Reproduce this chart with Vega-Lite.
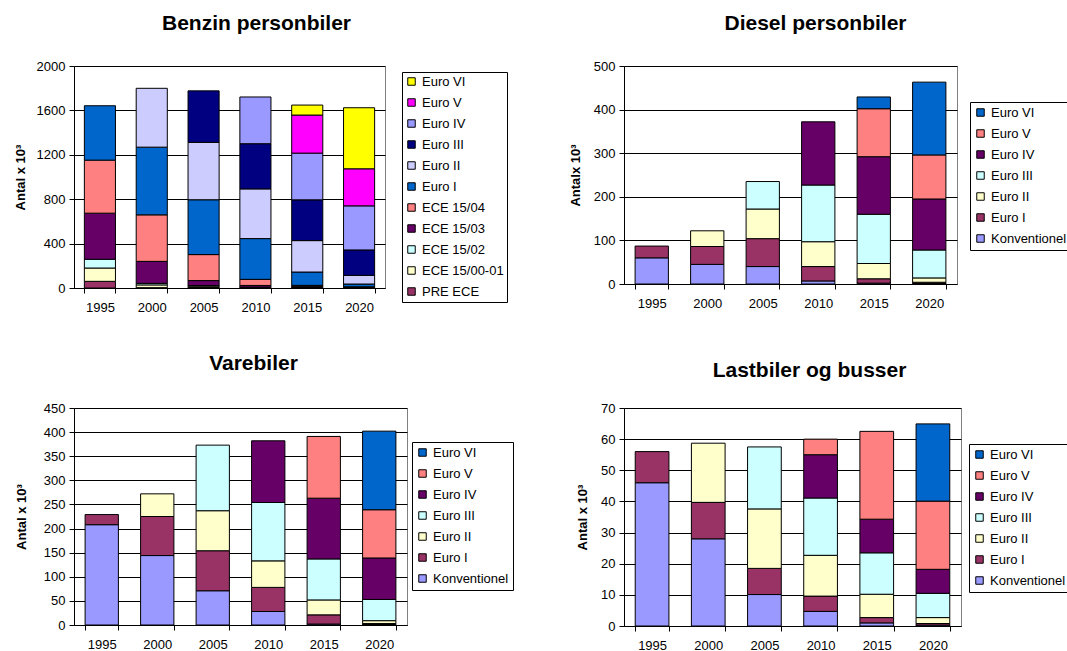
{
  "$schema": "https://vega.github.io/schema/vega-lite/v6.json",
  "padding": {"left": 13, "top": 12, "right": 0, "bottom": 0},
  "bounds": "flush",
  "columns": 2,
  "spacing": {"row": 120, "column": 217},
  "resolve": {"scale": {"color": "independent", "y": "independent", "x": "independent"}, "legend": {"color": "independent"}},
  "config": {
    "font": "Liberation Sans",
    "view": {"stroke": "#808080", "strokeWidth": 1},
    "axis": {"labelFontSize": 13, "labelColor": "#000", "domainColor": "#000", "tickColor": "#000", "tickSize": 5, "titleFontSize": 13, "titleFontWeight": "bold", "titleColor": "#000", "gridColor": "#000", "labelFont": "Liberation Sans", "titleFont": "Liberation Sans"},
    "axisX": {"grid": false, "labelAngle": 0, "labelPadding": 8},
    "axisY": {"grid": true, "labelPadding": 4, "format": "d"},
    "legend": {"orient": "none", "strokeColor": "#000", "fillColor": "#fff", "padding": 4, "symbolType": "square", "symbolSize": 56, "symbolStrokeColor": "#000", "symbolStrokeWidth": 1, "labelFontSize": 13, "labelColor": "#000", "rowPadding": 7, "labelOffset": 4, "labelFont": "Liberation Sans"},
    "title": {"fontSize": 21, "fontWeight": "bold", "color": "#000", "frame": "group", "anchor": "middle", "font": "Liberation Sans"}
  },
  "concat": [
    {
      "width": 311, "height": 222,
      "title": {"text": "Benzin personbiler", "dx": 27, "offset": 26},
      "data": {"values": [
        {"year": "1995", "s": "PRE ECE", "k": 0, "v": 60}, {"year": "1995", "s": "ECE 15/00-01", "k": 1, "v": 120}, {"year": "1995", "s": "ECE 15/02", "k": 2, "v": 79}, {"year": "1995", "s": "ECE 15/03", "k": 3, "v": 415}, {"year": "1995", "s": "ECE 15/04", "k": 4, "v": 478}, {"year": "1995", "s": "Euro I", "k": 5, "v": 490},
        {"year": "2000", "s": "PRE ECE", "k": 0, "v": 3}, {"year": "2000", "s": "ECE 15/00-01", "k": 1, "v": 25}, {"year": "2000", "s": "ECE 15/02", "k": 2, "v": 14}, {"year": "2000", "s": "ECE 15/03", "k": 3, "v": 198}, {"year": "2000", "s": "ECE 15/04", "k": 4, "v": 419}, {"year": "2000", "s": "Euro I", "k": 5, "v": 610}, {"year": "2000", "s": "Euro II", "k": 6, "v": 530},
        {"year": "2005", "s": "PRE ECE", "k": 0, "v": 5}, {"year": "2005", "s": "ECE 15/00-01", "k": 1, "v": 12}, {"year": "2005", "s": "ECE 15/02", "k": 2, "v": 5}, {"year": "2005", "s": "ECE 15/03", "k": 3, "v": 45}, {"year": "2005", "s": "ECE 15/04", "k": 4, "v": 234}, {"year": "2005", "s": "Euro I", "k": 5, "v": 494}, {"year": "2005", "s": "Euro II", "k": 6, "v": 517}, {"year": "2005", "s": "Euro III", "k": 7, "v": 464},
        {"year": "2010", "s": "PRE ECE", "k": 0, "v": 2}, {"year": "2010", "s": "ECE 15/00-01", "k": 1, "v": 3}, {"year": "2010", "s": "ECE 15/02", "k": 2, "v": 3}, {"year": "2010", "s": "ECE 15/03", "k": 3, "v": 15}, {"year": "2010", "s": "ECE 15/04", "k": 4, "v": 55}, {"year": "2010", "s": "Euro I", "k": 5, "v": 367}, {"year": "2010", "s": "Euro II", "k": 6, "v": 448}, {"year": "2010", "s": "Euro III", "k": 7, "v": 407}, {"year": "2010", "s": "Euro IV", "k": 8, "v": 421},
        {"year": "2015", "s": "PRE ECE", "k": 0, "v": 1}, {"year": "2015", "s": "ECE 15/00-01", "k": 1, "v": 2}, {"year": "2015", "s": "ECE 15/02", "k": 2, "v": 2}, {"year": "2015", "s": "ECE 15/03", "k": 3, "v": 10}, {"year": "2015", "s": "ECE 15/04", "k": 4, "v": 9}, {"year": "2015", "s": "Euro I", "k": 5, "v": 120}, {"year": "2015", "s": "Euro II", "k": 6, "v": 283}, {"year": "2015", "s": "Euro III", "k": 7, "v": 367}, {"year": "2015", "s": "Euro IV", "k": 8, "v": 421}, {"year": "2015", "s": "Euro V", "k": 9, "v": 343}, {"year": "2015", "s": "Euro VI", "k": 10, "v": 90},
        {"year": "2020", "s": "PRE ECE", "k": 0, "v": 1}, {"year": "2020", "s": "ECE 15/00-01", "k": 1, "v": 1}, {"year": "2020", "s": "ECE 15/02", "k": 2, "v": 1}, {"year": "2020", "s": "ECE 15/03", "k": 3, "v": 4}, {"year": "2020", "s": "ECE 15/04", "k": 4, "v": 4}, {"year": "2020", "s": "Euro I", "k": 5, "v": 25}, {"year": "2020", "s": "Euro II", "k": 6, "v": 78}, {"year": "2020", "s": "Euro III", "k": 7, "v": 229}, {"year": "2020", "s": "Euro IV", "k": 8, "v": 397}, {"year": "2020", "s": "Euro V", "k": 9, "v": 334}, {"year": "2020", "s": "Euro VI", "k": 10, "v": 550}
      ]},
      "mark": {"type": "bar", "stroke": "#000", "strokeWidth": 1},
      "encoding": {
        "x": {"field": "year", "type": "nominal", "scale": {"paddingInner": 0.4, "paddingOuter": 0.2}, "axis": {"title": null, "labelAngle": 0, "tickBand": "extent"}},
        "y": {"field": "v", "type": "quantitative", "stack": "zero", "scale": {"domain": [0, 2000], "nice": false}, "axis": {"title": "Antal x 10³", "values": [0, 400, 800, 1200, 1600, 2000], "titlePadding": 9}},
        "order": {"field": "k", "type": "quantitative", "sort": "ascending"},
        "color": {"field": "s", "type": "nominal",
          "scale": {"domain": ["Euro VI", "Euro V", "Euro IV", "Euro III", "Euro II", "Euro I", "ECE 15/04", "ECE 15/03", "ECE 15/02", "ECE 15/00-01", "PRE ECE"],
                    "range": ["#FFFF00", "#FF00FF", "#9999FF", "#000080", "#CCCCFF", "#0066CC", "#FF8080", "#660066", "#CCFFFF", "#FFFFCC", "#993366"]},
          "legend": {"title": null, "legendX": 328, "legendY": 6, "padding": 3}}
      }
    },
    {
      "width": 333, "height": 218,
      "title": {"text": "Diesel personbiler", "dx": 25, "offset": 26},
      "data": {"values": [
        {"year": "1995", "s": "Konventionel", "k": 0, "v": 60}, {"year": "1995", "s": "Euro I", "k": 1, "v": 27},
        {"year": "2000", "s": "Konventionel", "k": 0, "v": 45}, {"year": "2000", "s": "Euro I", "k": 1, "v": 41}, {"year": "2000", "s": "Euro II", "k": 2, "v": 36},
        {"year": "2005", "s": "Konventionel", "k": 0, "v": 40}, {"year": "2005", "s": "Euro I", "k": 1, "v": 64}, {"year": "2005", "s": "Euro II", "k": 2, "v": 68}, {"year": "2005", "s": "Euro III", "k": 3, "v": 63},
        {"year": "2010", "s": "Konventionel", "k": 0, "v": 7}, {"year": "2010", "s": "Euro I", "k": 1, "v": 33}, {"year": "2010", "s": "Euro II", "k": 2, "v": 57}, {"year": "2010", "s": "Euro III", "k": 3, "v": 130}, {"year": "2010", "s": "Euro IV", "k": 4, "v": 145},
        {"year": "2015", "s": "Konventionel", "k": 0, "v": 2}, {"year": "2015", "s": "Euro I", "k": 1, "v": 10}, {"year": "2015", "s": "Euro II", "k": 2, "v": 35}, {"year": "2015", "s": "Euro III", "k": 3, "v": 113}, {"year": "2015", "s": "Euro IV", "k": 4, "v": 132}, {"year": "2015", "s": "Euro V", "k": 5, "v": 110}, {"year": "2015", "s": "Euro VI", "k": 6, "v": 27},
        {"year": "2020", "s": "Konventionel", "k": 0, "v": 1}, {"year": "2020", "s": "Euro I", "k": 1, "v": 3}, {"year": "2020", "s": "Euro II", "k": 2, "v": 10}, {"year": "2020", "s": "Euro III", "k": 3, "v": 64}, {"year": "2020", "s": "Euro IV", "k": 4, "v": 117}, {"year": "2020", "s": "Euro V", "k": 5, "v": 101}, {"year": "2020", "s": "Euro VI", "k": 6, "v": 167}
      ]},
      "mark": {"type": "bar", "stroke": "#000", "strokeWidth": 1},
      "encoding": {
        "x": {"field": "year", "type": "nominal", "scale": {"paddingInner": 0.4, "paddingOuter": 0.2}, "axis": {"title": null, "labelAngle": 0, "tickBand": "extent"}},
        "y": {"field": "v", "type": "quantitative", "stack": "zero", "scale": {"domain": [0, 500], "nice": false}, "axis": {"title": "Antalx 10³", "values": [0, 100, 200, 300, 400, 500], "titlePadding": 11}},
        "order": {"field": "k", "type": "quantitative", "sort": "ascending"},
        "color": {"field": "s", "type": "nominal",
          "scale": {"domain": ["Euro VI", "Euro V", "Euro IV", "Euro III", "Euro II", "Euro I", "Konventionel"],
                    "range": ["#0066CC", "#FF8080", "#660066", "#CCFFFF", "#FFFFCC", "#993366", "#9999FF"]},
          "legend": {"title": null, "legendX": 346, "legendY": 36, "padding": 4}}
      }
    },
    {
      "width": 333, "height": 217,
      "title": {"text": "Varebiler", "dx": 13, "offset": 28},
      "data": {"values": [
        {"year": "1995", "s": "Konventionel", "k": 0, "v": 208}, {"year": "1995", "s": "Euro I", "k": 1, "v": 21},
        {"year": "2000", "s": "Konventionel", "k": 0, "v": 144}, {"year": "2000", "s": "Euro I", "k": 1, "v": 81}, {"year": "2000", "s": "Euro II", "k": 2, "v": 47},
        {"year": "2005", "s": "Konventionel", "k": 0, "v": 71}, {"year": "2005", "s": "Euro I", "k": 1, "v": 83}, {"year": "2005", "s": "Euro II", "k": 2, "v": 83}, {"year": "2005", "s": "Euro III", "k": 3, "v": 136},
        {"year": "2010", "s": "Konventionel", "k": 0, "v": 28}, {"year": "2010", "s": "Euro I", "k": 1, "v": 50}, {"year": "2010", "s": "Euro II", "k": 2, "v": 55}, {"year": "2010", "s": "Euro III", "k": 3, "v": 121}, {"year": "2010", "s": "Euro IV", "k": 4, "v": 128},
        {"year": "2015", "s": "Konventionel", "k": 0, "v": 2}, {"year": "2015", "s": "Euro I", "k": 1, "v": 19}, {"year": "2015", "s": "Euro II", "k": 2, "v": 31}, {"year": "2015", "s": "Euro III", "k": 3, "v": 85}, {"year": "2015", "s": "Euro IV", "k": 4, "v": 126}, {"year": "2015", "s": "Euro V", "k": 5, "v": 128},
        {"year": "2020", "s": "Konventionel", "k": 0, "v": 1}, {"year": "2020", "s": "Euro I", "k": 1, "v": 2}, {"year": "2020", "s": "Euro II", "k": 2, "v": 6}, {"year": "2020", "s": "Euro III", "k": 3, "v": 44}, {"year": "2020", "s": "Euro IV", "k": 4, "v": 86}, {"year": "2020", "s": "Euro V", "k": 5, "v": 100}, {"year": "2020", "s": "Euro VI", "k": 6, "v": 163}
      ]},
      "mark": {"type": "bar", "stroke": "#000", "strokeWidth": 1},
      "encoding": {
        "x": {"field": "year", "type": "nominal", "scale": {"paddingInner": 0.4, "paddingOuter": 0.2}, "axis": {"title": null, "labelAngle": 0, "tickBand": "extent"}},
        "y": {"field": "v", "type": "quantitative", "stack": "zero", "scale": {"domain": [0, 450], "nice": false}, "axis": {"title": "Antal x 10³", "values": [0, 50, 100, 150, 200, 250, 300, 350, 400, 450], "titlePadding": 15}},
        "order": {"field": "k", "type": "quantitative", "sort": "ascending"},
        "color": {"field": "s", "type": "nominal",
          "scale": {"domain": ["Euro VI", "Euro V", "Euro IV", "Euro III", "Euro II", "Euro I", "Konventionel"],
                    "range": ["#0066CC", "#FF8080", "#660066", "#CCFFFF", "#FFFFCC", "#993366", "#9999FF"]},
          "legend": {"title": null, "legendX": 338, "legendY": 34, "padding": 4}}
      }
    },
    {
      "width": 337, "height": 218,
      "title": {"text": "Lastbiler og busser", "dx": 17, "offset": 21},
      "data": {"values": [
        {"year": "1995", "s": "Konventionel", "k": 0, "v": 46}, {"year": "1995", "s": "Euro I", "k": 1, "v": 10},
        {"year": "2000", "s": "Konventionel", "k": 0, "v": 28}, {"year": "2000", "s": "Euro I", "k": 1, "v": 11.7}, {"year": "2000", "s": "Euro II", "k": 2, "v": 19},
        {"year": "2005", "s": "Konventionel", "k": 0, "v": 10.1}, {"year": "2005", "s": "Euro I", "k": 1, "v": 8.4}, {"year": "2005", "s": "Euro II", "k": 2, "v": 19.1}, {"year": "2005", "s": "Euro III", "k": 3, "v": 19.9},
        {"year": "2010", "s": "Konventionel", "k": 0, "v": 4.7}, {"year": "2010", "s": "Euro I", "k": 1, "v": 4.9}, {"year": "2010", "s": "Euro II", "k": 2, "v": 13.1}, {"year": "2010", "s": "Euro III", "k": 3, "v": 18.4}, {"year": "2010", "s": "Euro IV", "k": 4, "v": 13.9}, {"year": "2010", "s": "Euro V", "k": 5, "v": 5},
        {"year": "2015", "s": "Konventionel", "k": 0, "v": 1}, {"year": "2015", "s": "Euro I", "k": 1, "v": 1.7}, {"year": "2015", "s": "Euro II", "k": 2, "v": 7.5}, {"year": "2015", "s": "Euro III", "k": 3, "v": 13.3}, {"year": "2015", "s": "Euro IV", "k": 4, "v": 10.8}, {"year": "2015", "s": "Euro V", "k": 5, "v": 28.2},
        {"year": "2020", "s": "Konventionel", "k": 0, "v": 0.3}, {"year": "2020", "s": "Euro I", "k": 1, "v": 0.5}, {"year": "2020", "s": "Euro II", "k": 2, "v": 1.9}, {"year": "2020", "s": "Euro III", "k": 3, "v": 7.8}, {"year": "2020", "s": "Euro IV", "k": 4, "v": 7.7}, {"year": "2020", "s": "Euro V", "k": 5, "v": 21.9}, {"year": "2020", "s": "Euro VI", "k": 6, "v": 24.8}
      ]},
      "mark": {"type": "bar", "stroke": "#000", "strokeWidth": 1},
      "encoding": {
        "x": {"field": "year", "type": "nominal", "scale": {"paddingInner": 0.4, "paddingOuter": 0.2}, "axis": {"title": null, "labelAngle": 0, "tickBand": "extent"}},
        "y": {"field": "v", "type": "quantitative", "stack": "zero", "scale": {"domain": [0, 70], "nice": false}, "axis": {"title": "Antal x 10³", "values": [0, 10, 20, 30, 40, 50, 60, 70], "titlePadding": 11}},
        "order": {"field": "k", "type": "quantitative", "sort": "ascending"},
        "color": {"field": "s", "type": "nominal",
          "scale": {"domain": ["Euro VI", "Euro V", "Euro IV", "Euro III", "Euro II", "Euro I", "Konventionel"],
                    "range": ["#0066CC", "#FF8080", "#660066", "#CCFFFF", "#FFFFCC", "#993366", "#9999FF"]},
          "legend": {"title": null, "legendX": 345, "legendY": 36, "padding": 4}}
      }
    }
  ]
}
